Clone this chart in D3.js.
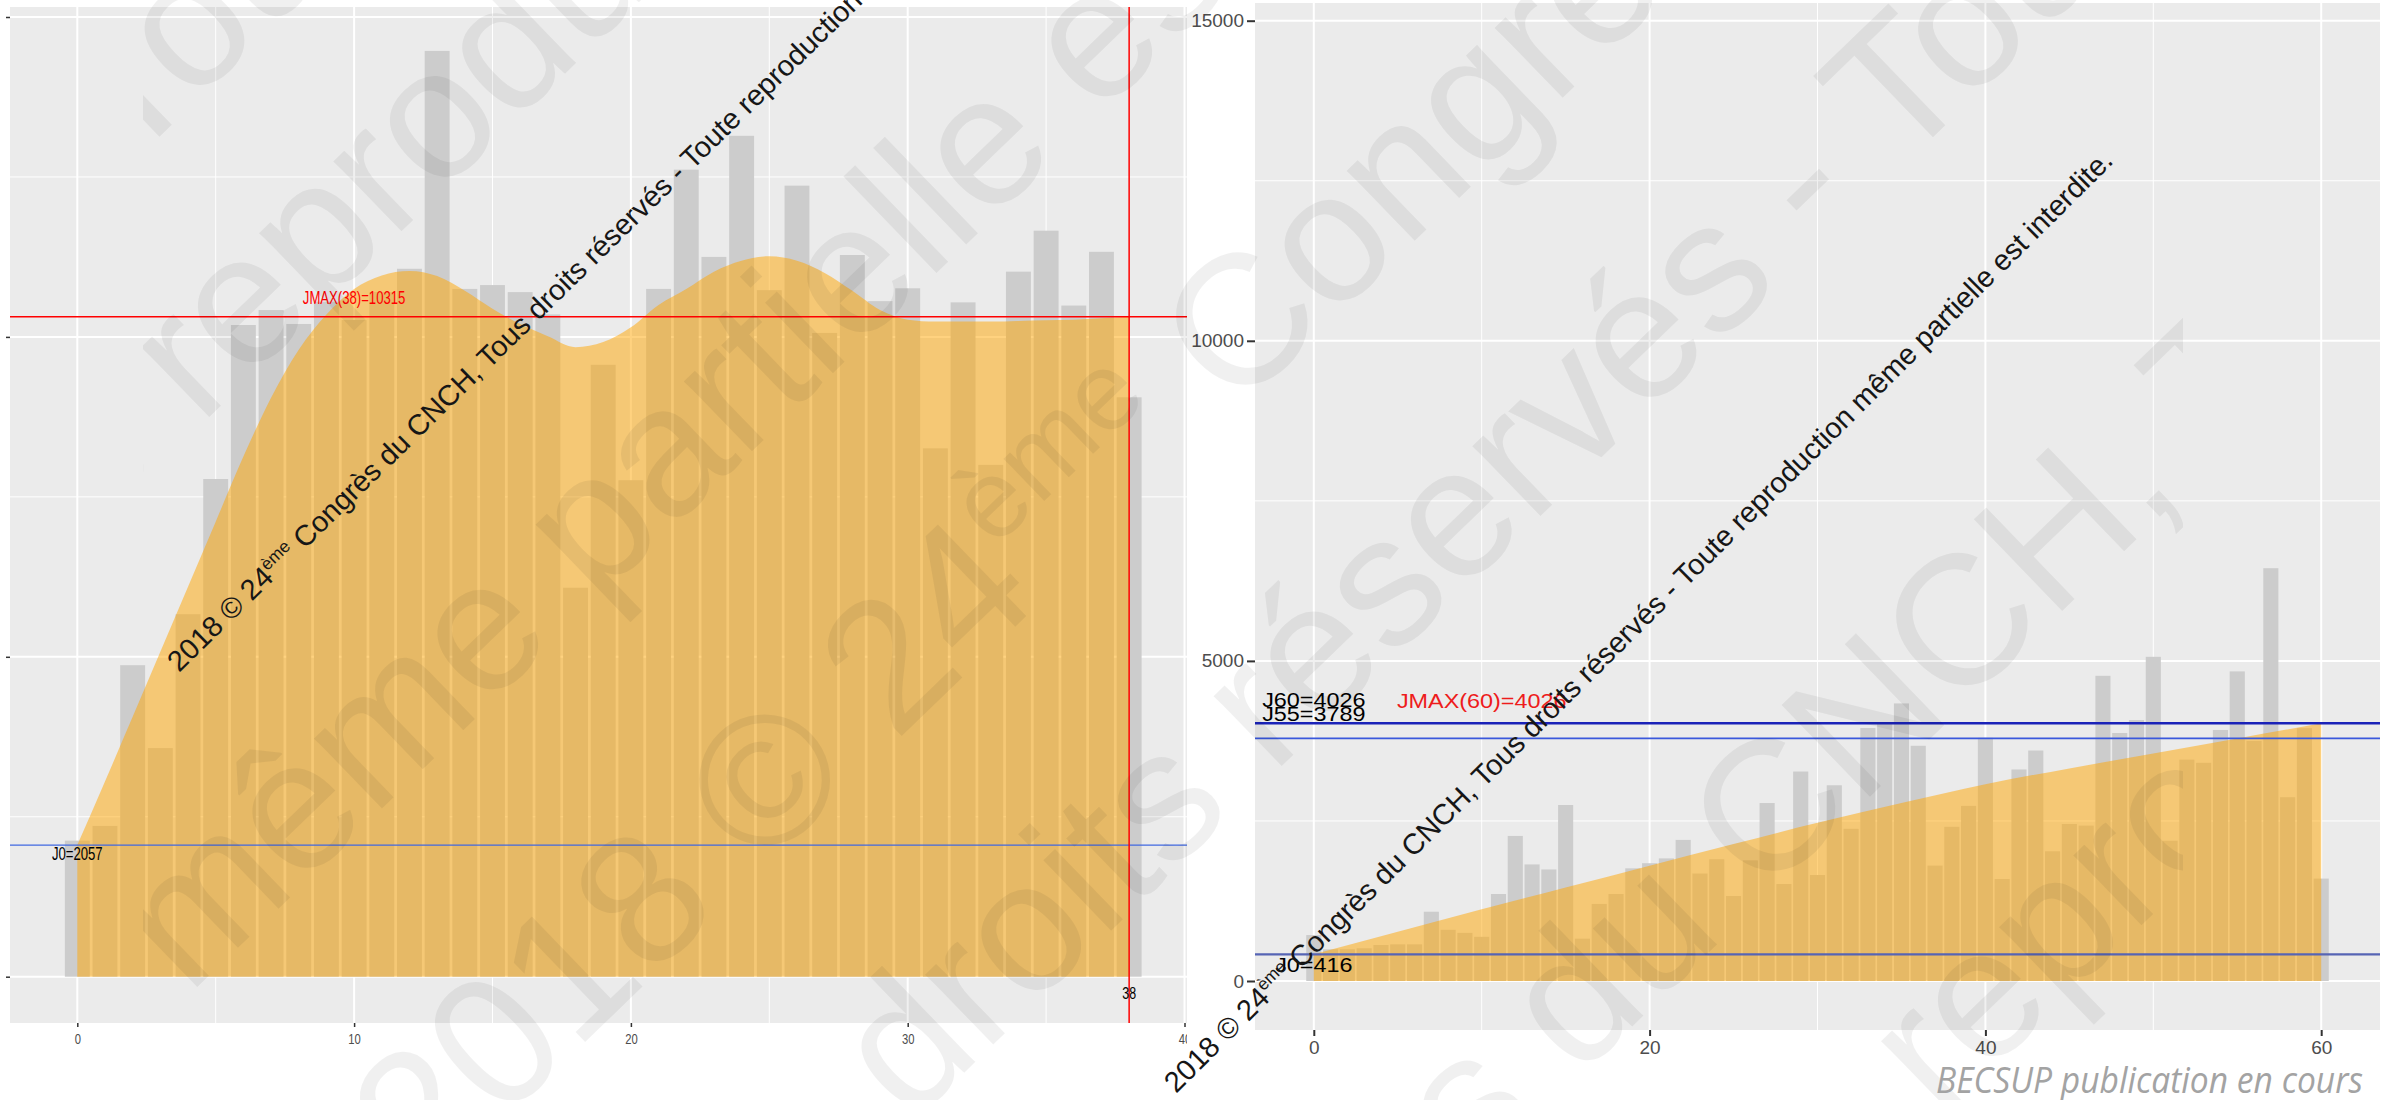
<!DOCTYPE html>
<html>
<head>
<meta charset="utf-8">
<script src="https://cdn.jsdelivr.net/npm/d3@7"></script>
<style>
  html, body { margin: 0; padding: 0; background: #ffffff; overflow: hidden; }
  svg { display: block; font-family: "Liberation Sans", Arial, sans-serif; }
  text { white-space: pre; }
</style>
</head>
<body>
<svg id="chart" width="2386" height="1100"></svg>
<script>
// ---------- data ----------
// Left panel: daily counts (grey bars), days 0..38
const leftCounts = [2127, 2357, 4869, 3573, 5666, 7779, 10186, 10420, 10202, 10550,
                    10264, 10700, 11065, 14470, 10750, 10810, 10700, 10352, 6080, 9564,
                    7760, 10750, 12614, 11250, 13143, 10730, 12364, 10062, 11280, 10559,
                    10760, 8258, 10540, 8000, 11020, 11660, 10490, 11330, 9056];
// Left panel: smoothed curve (orange area), days 0..38
const leftSmooth = [2057, 3050, 4062, 5078, 6095, 7112, 8129, 9050, 9800, 10350,
                    10750, 10960, 11030, 10950, 10720, 10440, 10200, 10010, 9840, 9920,
                    10150, 10500, 10750, 11020, 11190, 11260, 11190, 11000, 10720, 10420,
                    10270, 10240, 10240, 10240, 10250, 10260, 10270, 10290, 10315];
const leftXTicks = [0, 10, 20, 30, 40];
const leftXMinor = [5, 15, 25, 35];
const leftJ0 = 2057;
const leftJmaxDay = 38;
const leftJmax = 10315;

// Right panel: daily counts (grey bars), days 0..60
const rightCounts = [718, 495, 495, 511, 562, 573, 573, 1082, 800, 752,
                     690, 1359, 2266, 1821, 1742, 2749, 661, 1204, 1359, 1760,
                     1840, 1915, 2204, 1679, 1902, 1328, 1884, 2780, 1515, 3272,
                     1656, 3057, 2377, 3952, 4027, 4336, 3674, 1803, 2409, 2735,
                     3799, 1593, 3304, 3600, 2026, 2452, 2427, 4767, 3874, 4077,
                     5064, 2191, 3458, 3408, 3921, 4836, 3750, 6448, 2871, 3950,
                     1600];
// Right panel: smoothed curve (orange area)
const rightSmoothDays = [0, 5, 10, 15, 20, 25, 30, 35, 40, 45, 50, 55, 60];
const rightSmooth = [416, 770, 1120, 1460, 1800, 2140, 2470, 2780, 3075, 3320, 3555, 3789, 4026];
const rightXTicks = [0, 20, 40, 60];
const rightXMinor = [10, 30, 50];
const rightJ0 = 416;
const rightJ55 = 3789;
const rightJ60 = 4026;
const rightJmaxDay = 60;

const yTicks = [0, 5000, 10000, 15000];
const yMinor = [2500, 7500, 12500];

const notice = "2018 © 24ème Congrès du CNCH, Tous droits réservés - Toute reproduction même partielle est interdite.";
const footer = "BECSUP publication en cours";

// ---------- helpers ----------
const svg = d3.select("#chart");
const defs = svg.append("defs");
const FONT = '"Liberation Sans", Arial, sans-serif';

// writes a string into a <text>, rendering the ordinal "ème" as a superscript
function richText(sel, str, size) {
  sel.attr("xml:space", "preserve");
  const parts = str.split("ème");
  parts.forEach((p, i) => {
    if (i > 0) {
      sel.append("tspan").attr("font-size", size * 0.6).attr("dy", -size * 0.38).text("ème");
      sel.append("tspan").attr("dy", size * 0.38).text(p);
    } else {
      sel.append("tspan").text(p);
    }
  });
  return sel;
}

function drawPanel(g, cfg) {
  const {x, y, box, counts, smoothX, smoothY} = cfg;
  g.append("rect")
    .attr("x", box.left).attr("y", box.top)
    .attr("width", box.right - box.left).attr("height", box.bottom - box.top)
    .attr("fill", "#ebebeb");

  const grid = g.append("g");
  cfg.yMinor.forEach(v => grid.append("line")
    .attr("x1", box.left).attr("x2", box.right).attr("y1", y(v)).attr("y2", y(v))
    .attr("stroke", "#ffffff").attr("stroke-width", 1));
  cfg.xMinor.forEach(v => grid.append("line")
    .attr("y1", box.top).attr("y2", box.bottom).attr("x1", x(v)).attr("x2", x(v))
    .attr("stroke", "#ffffff").attr("stroke-width", 1));
  cfg.yMajor.forEach(v => grid.append("line")
    .attr("x1", box.left).attr("x2", box.right).attr("y1", y(v)).attr("y2", y(v))
    .attr("stroke", "#ffffff").attr("stroke-width", 2));
  cfg.xMajor.forEach(v => grid.append("line")
    .attr("y1", box.top).attr("y2", box.bottom).attr("x1", x(v)).attr("x2", x(v))
    .attr("stroke", "#ffffff").attr("stroke-width", 2));

  const bw = x(0.9) - x(0);
  g.append("g").selectAll("rect").data(counts).join("rect")
    .attr("x", (d, i) => x(i - 0.45))
    .attr("width", bw)
    .attr("y", d => y(d))
    .attr("height", d => y(0) - y(d))
    .attr("fill", "#cccccc");

  const area = d3.area()
    .x((d, i) => x(smoothX[i]))
    .y0(y(0))
    .y1(d => y(d))
    .curve(d3.curveMonotoneX);
  g.append("path").datum(smoothY)
    .attr("d", area)
    .attr("fill", "#ffa500")
    .attr("fill-opacity", 0.5);
}

// ---------- left panel ----------
const LB = {left: 10, top: 7, right: 1187, bottom: 1023};
const xL = d3.scaleLinear().domain([0, 40]).range([77.3, 1184.5]);
const yL = d3.scaleLinear().domain([0, 15000]).range([976.7, 17]);

defs.append("clipPath").attr("id", "clipLeft")
  .append("rect").attr("x", 0).attr("y", 0).attr("width", 1187).attr("height", 1100);

const gL = svg.append("g").attr("clip-path", "url(#clipLeft)");
drawPanel(gL, {
  x: xL, y: yL, box: LB, counts: leftCounts,
  smoothX: leftSmooth.map((d, i) => i), smoothY: leftSmooth,
  xMajor: leftXTicks, xMinor: leftXMinor, yMajor: yTicks, yMinor: yMinor
});

// reference lines
gL.append("line").attr("x1", LB.left).attr("x2", LB.right)
  .attr("y1", yL(leftJ0)).attr("y2", yL(leftJ0))
  .attr("stroke", "#4169e1").attr("stroke-width", 1.3);
gL.append("line").attr("x1", LB.left).attr("x2", LB.right)
  .attr("y1", yL(leftJmax)).attr("y2", yL(leftJmax))
  .attr("stroke", "#ff0000").attr("stroke-width", 1.5);
gL.append("line").attr("x1", xL(leftJmaxDay)).attr("x2", xL(leftJmaxDay))
  .attr("y1", LB.top).attr("y2", LB.bottom)
  .attr("stroke", "#ff0000").attr("stroke-width", 1.5);

// annotations (narrow lettering)
function narrowLabel(g, cx, by, txt, color, size, sx) {
  g.append("g").attr("transform", `translate(${cx},${by}) scale(${sx},1)`)
    .append("text").attr("text-anchor", "middle")
    .attr("font-size", size).attr("fill", color).attr("font-family", FONT)
    .text(txt);
}
narrowLabel(gL, xL(10), yL(leftJmax) - 13, `JMAX(${leftJmaxDay})=${leftJmax}`, "#ff0000", 18, 0.73);
narrowLabel(gL, xL(0), yL(leftJ0) + 15, `J0=${leftJ0}`, "#000000", 18, 0.73);
narrowLabel(gL, xL(leftJmaxDay), yL(0) + 22, `${leftJmaxDay}`, "#000000", 17, 0.73);

// axes
const axL = gL.append("g").attr("transform", `translate(0,${LB.bottom})`)
  .call(d3.axisBottom(xL).tickValues(leftXTicks).tickSize(4).tickPadding(6));
axL.select(".domain").remove();
axL.selectAll("line").attr("stroke", "#333333").attr("stroke-width", 1.5);
axL.selectAll("text").attr("font-size", 15).attr("fill", "#4d4d4d")
  .attr("font-family", FONT).attr("transform", "scale(0.75,1)");

const ayL = gL.append("g").attr("transform", `translate(${LB.left},0)`)
  .call(d3.axisLeft(yL).tickValues(yTicks).tickSize(4).tickFormat(() => ""));
ayL.select(".domain").remove();
ayL.selectAll("line").attr("stroke", "#333333").attr("stroke-width", 1.5);

// ---------- right panel ----------
const RB = {left: 1255, top: 3, right: 2380, bottom: 1030};
const xR = d3.scaleLinear().domain([0, 60]).range([1313.8, 2321.2]);
const yR = d3.scaleLinear().domain([0, 15000]).range([981, 20.7]);

const gR = svg.append("g");
drawPanel(gR, {
  x: xR, y: yR, box: RB, counts: rightCounts,
  smoothX: rightSmoothDays, smoothY: rightSmooth,
  xMajor: rightXTicks, xMinor: rightXMinor, yMajor: yTicks, yMinor: yMinor
});

[[rightJ60, "#1a22b8", 2.4], [rightJ55, "#3a58dc", 1.8], [rightJ0, "#5664b4", 2.4]].forEach(([v, c, w]) => {
  gR.append("line").attr("x1", RB.left).attr("x2", RB.right)
    .attr("y1", yR(v)).attr("y2", yR(v))
    .attr("stroke", c).attr("stroke-width", w);
});

narrowLabel(gR, xR(0), yR(rightJ60) - 16, `J60=${rightJ60}`, "#000000", 19.5, 1.2);
narrowLabel(gR, xR(0), yR(rightJ55) - 17, `J55=${rightJ55}`, "#000000", 19.5, 1.2);
narrowLabel(gR, xR(10), yR(rightJ60) - 15, `JMAX(${rightJmaxDay})=${rightJ60}`, "#ee1c1c", 19.5, 1.2);
narrowLabel(gR, xR(0), yR(rightJ0) + 18, `J0=${rightJ0}`, "#000000", 19.5, 1.2);

const axR = gR.append("g").attr("transform", `translate(0,${RB.bottom})`)
  .call(d3.axisBottom(xR).tickValues(rightXTicks).tickSize(6).tickPadding(5));
axR.select(".domain").remove();
axR.selectAll("line").attr("stroke", "#333333").attr("stroke-width", 2);
axR.selectAll("text").attr("font-size", 19).attr("fill", "#4d4d4d").attr("font-family", FONT);

const ayR = gR.append("g").attr("transform", `translate(${RB.left},0)`)
  .call(d3.axisLeft(yR).tickValues(yTicks).tickSize(8).tickPadding(3).tickFormat(d3.format("d")));
ayR.select(".domain").remove();
ayR.selectAll("line").attr("stroke", "#333333").attr("stroke-width", 2);
ayR.selectAll("text").attr("font-size", 19).attr("fill", "#4d4d4d").attr("font-family", FONT);

// ---------- copyright notices ----------
function notices(x0, y0, angle) {
  const t = svg.append("text")
    .attr("transform", `translate(${x0},${y0}) rotate(${angle})`)
    .attr("font-size", 29).attr("fill", "#161616").attr("font-family", FONT);
  richText(t, notice, 29);
}
notices(179, 673, -44.4);
notices(1176, 1094, -44.8);

// large light watermark: diagonal lines of text inside a fixed band
const WM = 185, WA = -44;
defs.append("clipPath").attr("id", "clipMark")
  .append("rect").attr("x", 143).attr("y", -50).attr("width", 2183 - 143).attr("height", 1200);
const wmLines = [
  {at: [125, 170],  before: "- ", after: "Tous droits réservés"},
  {at: [200, 426],  before: "droits réservés - Toute ", after: "reproduction même partielle"},
  {at: [188, 996],  before: "Toute reproduction ", after: "même partielle est interdite. 2018 ©"},
  {at: [760, 873],  before: "partielle est interdite. 2018 ", after: "© 24ème Congrès du CNCH, Tous"},
  {at: [910, 1125], before: "24ème Congrès du CNCH, Tous ", after: "droits réservés - Toute reproduction"},
  {at: [1763, 900], before: "2018 © 24ème Congrès du ", after: "CNCH, Tous droits réservés"},
  {at: [1940, 1120], before: "CNCH, Tous droits réservés - Toute ", after: "reproduction même partielle"}
];
const gW = svg.append("g").attr("clip-path", "url(#clipMark)")
  .attr("fill", "#000000").attr("fill-opacity", 0.06)
  .attr("font-size", WM).attr("font-family", FONT);
wmLines.forEach(l => {
  const g = gW.append("g").attr("transform", `translate(${l.at[0]},${l.at[1]}) rotate(${WA})`);
  if (l.before) richText(g.append("text").attr("text-anchor", "end"), l.before, WM);
  richText(g.append("text").attr("text-anchor", "start"), l.after, WM);
});

// footer
svg.append("text")
  .attr("x", 1936).attr("y", 1093)
  .attr("font-size", 37).attr("font-style", "italic")
  .attr("font-family", '"Open Sans", "Liberation Sans", sans-serif')
  .attr("fill", "#a3a3a3")
  .attr("textLength", 427).attr("lengthAdjust", "spacingAndGlyphs")
  .text(footer);
</script>
</body>
</html>
